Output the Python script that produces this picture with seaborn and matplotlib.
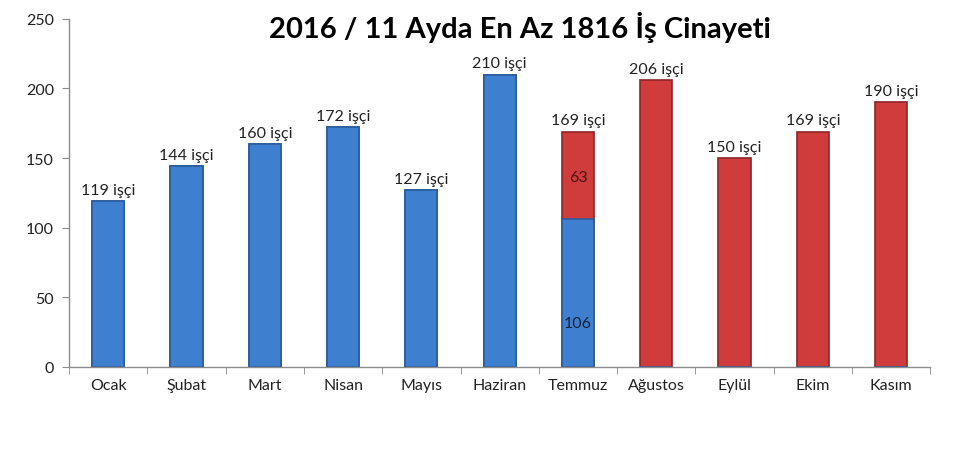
import seaborn as sns
from matplotlib import pyplot as plt
import pandas as pd
import numpy as np

months = ["Ocak", "Şubat", "Mart", "Nisan", "Mayıs", "Haziran",
          "Temmuz", "Ağustos", "Eylül", "Ekim", "Kasım"]
totals = [119, 144, 160, 172, 127, 210, 169, 206, 150, 169, 190]
blue_part = [119, 144, 160, 172, 127, 210, 106, 0, 0, 0, 0]
red_part = [0, 0, 0, 0, 0, 0, 63, 206, 150, 169, 190]
title = "2016 / 11 Ayda En Az 1816 İş Cinayeti"

BLUE = "#3f7fcf"
BLUE_EDGE = "#2b5d9c"
RED = "#d03c3c"
RED_EDGE = "#8e2424"

sns.set_style("white")
plt.rcParams["font.family"] = ["Lato", "DejaVu Sans"]

df = pd.DataFrame({"month": months, "total": totals, "blue": blue_part, "red": red_part})

fig = plt.figure(figsize=(9.6, 4.52), dpi=100)
ax = fig.add_axes([0.072, 0.186, 0.897, 0.770])

# total bars: blue months blue, red months red
tot_colors = [BLUE if r == 0 else RED for r in red_part]
tot_edges = [BLUE_EDGE if r == 0 else RED_EDGE for r in red_part]
sns.barplot(data=df, x="month", y="total", hue="month", palette=tot_colors,
            order=months, width=0.41, legend=False, ax=ax, saturation=1,
            linewidth=1.2)
for patch, ec in zip(ax.patches, tot_edges):
    patch.set_edgecolor(ec)

# blue overlay (covers the lower part of Temmuz)
sns.barplot(data=df, x="month", y="blue", color=BLUE, order=months,
            width=0.41, ax=ax, saturation=1, edgecolor=BLUE_EDGE, linewidth=1.2)

for i, t in enumerate(totals):
    ax.text(i, t + 3, f"{t} işçi", ha="center", va="bottom", fontsize=11.5, color="#222222")

# values inside the split bar
i_split = months.index("Temmuz")
ax.text(i_split, blue_part[i_split] + red_part[i_split] * 0.48, str(red_part[i_split]),
        ha="center", va="center", fontsize=11.5, color="#4a1010")
ax.text(i_split, blue_part[i_split] * 0.3, str(blue_part[i_split]),
        ha="center", va="center", fontsize=11.5, color="#10233f")

ax.set_xlim(-0.5, len(months) - 0.5)
ax.set_ylim(0, 250)
ax.set_yticks(np.arange(0, 251, 50))
ax.set_xlabel("")
ax.set_ylabel("")

for side in ["top", "right"]:
    ax.spines[side].set_visible(False)
for side in ["left", "bottom"]:
    ax.spines[side].set_color("#8c8c8c")
    ax.spines[side].set_linewidth(1)

ax.tick_params(axis="y", which="major", length=5, color="#8c8c8c", labelsize=11.5,
               labelcolor="#222222", pad=6, left=True)
ax.tick_params(axis="x", which="major", length=0, labelsize=11.5, labelcolor="#222222", pad=8)
ax.set_xticks(np.arange(-0.5, len(months) + 0.5, 1), minor=True)
ax.tick_params(axis="x", which="minor", length=5, color="#8c8c8c", bottom=True)

fig.text(0.542, 0.94, title, ha="center", va="center", fontsize=21,
         fontweight="bold", color="black")

fig.savefig("out.png", dpi=100, facecolor="white")
